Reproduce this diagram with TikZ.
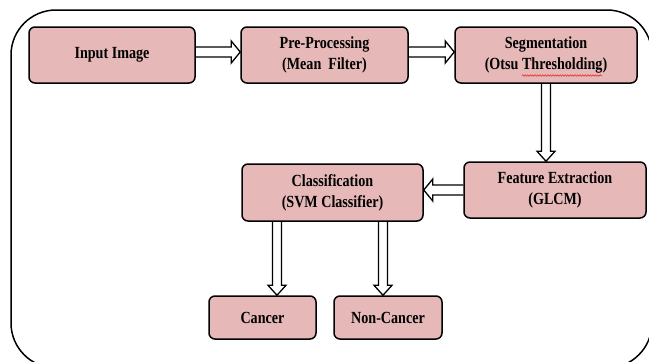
\documentclass[tikz,border=0pt]{standalone}
\usepackage{fontspec}
\setmainfont[FakeStretch=0.83]{Liberation Serif}
\usetikzlibrary{calc,decorations.pathmorphing}
\definecolor{boxfill}{RGB}{230,184,183}
\definecolor{spellred}{RGB}{225,30,30}
\tikzset{
  stage/.style={draw=black, line width=1.5pt, fill=boxfill, rounded corners=6pt,
    align=center, inner sep=0pt, font=\bfseries\fontsize{17}{21}\selectfont},
  hollow/.style={draw=black, line width=1.3pt, line join=miter},
  frame/.style={draw=black, line width=1.5pt, rounded corners=45pt},
}
% block arrows: shaft starts at #1, tip sits on #2
\newcommand{\arrowRight}[2]{%
  \path[hollow] let \p1=#1, \p2=#2 in
    (\x1,\y1+5pt) -- (\x2-9pt,\y1+5pt) -- (\x2-9pt,\y1+11pt) -- (\x2,\y1)
    -- (\x2-9pt,\y1-11pt) -- (\x2-9pt,\y1-5pt) -- (\x1,\y1-5pt);}
\newcommand{\arrowLeft}[2]{%
  \path[hollow] let \p1=#1, \p2=#2 in
    (\x1,\y1+5pt) -- (\x2+9pt,\y1+5pt) -- (\x2+9pt,\y1+11pt) -- (\x2,\y1)
    -- (\x2+9pt,\y1-11pt) -- (\x2+9pt,\y1-5pt) -- (\x1,\y1-5pt);}
\newcommand{\arrowDown}[2]{%
  \path[hollow] let \p1=#1, \p2=#2 in
    (\x1-4.5pt,\y1) -- (\x1-4.5pt,\y2+10pt) -- (\x1-9pt,\y2+10pt) -- (\x1,\y2)
    -- (\x1+9pt,\y2+10pt) -- (\x1+4.5pt,\y2+10pt) -- (\x1+4.5pt,\y1);}
\begin{document}
\begin{tikzpicture}[x=1pt,y=-1pt]
  \useasboundingbox (0,0) rectangle (649,362);
  \clip (0,0) rectangle (649,362);
  \fill[white] (0,0) rectangle (649,362);

  % outer rounded frame
  \path[frame] (11,10) rectangle (652,368);

  % processing stages
  \node[stage, minimum width=166pt, minimum height=56pt] (input) at (112,55) {Input Image};
  \node[stage, minimum width=167pt, minimum height=56pt] (pre) at (324.5,55) {Pre-Processing\\(Mean\ \ Filter)};
  \node[stage, minimum width=182pt, minimum height=56pt] (seg) at (546,55) {Segmentation\\(Otsu Thresholding)};
  \node[stage, minimum width=182pt, minimum height=56pt] (feat) at (555,190) {Feature Extraction\\(GLCM)};
  \node[stage, minimum width=181pt, minimum height=57pt] (class) at (332.5,192.5) {Classification\\(SVM Classifier)};
  \node[stage, minimum width=107pt, minimum height=43pt] (cancer) at (262.5,317.5) {Cancer};
  \node[stage, minimum width=108pt, minimum height=43pt] (noncancer) at (388,317.5) {Non-Cancer};

  % spell-check underline below "Thresholding"
  \draw[spellred, line width=0.5pt, decorate,
        decoration={snake, amplitude=0.7pt, segment length=2.5pt}]
    ([xshift=-24pt,yshift=-20.5pt]seg.center) -- ([xshift=56pt,yshift=-20.5pt]seg.center);

  % flow arrows
  \arrowRight{([yshift=3pt]input.east)}{([yshift=3pt]pre.west)}
  \arrowRight{([yshift=3pt]pre.east)}{(seg.west)}
  \arrowDown{(seg.south)}{(feat.north)}
  \arrowLeft{(feat.west)}{(class.east)}
  \arrowDown{([xshift=-55.5pt]class.south)}{(cancer.north)}
  \arrowDown{([xshift=50.5pt]class.south)}{(noncancer.north)}
\end{tikzpicture}
\end{document}
